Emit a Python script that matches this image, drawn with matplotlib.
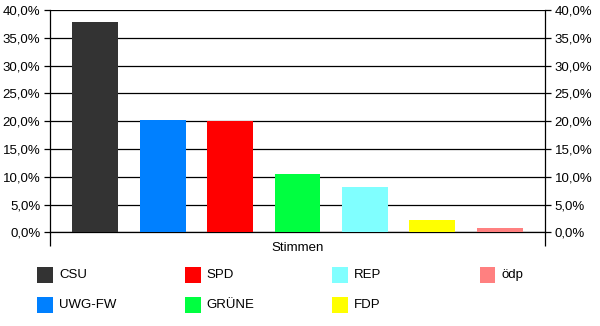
import matplotlib
matplotlib.use("Agg")
import matplotlib.pyplot as plt
from matplotlib.patches import Rectangle
from matplotlib.ticker import FuncFormatter

# Vote shares (%) per party, single category "Stimmen"
parties = ["CSU", "UWG-FW", "SPD", "GRÜNE", "REP", "FDP", "ödp"]
shares = [37.9, 20.2, 20.0, 10.5, 8.2, 2.3, 0.8]
colors = ["#333333", "#0080ff", "#ff0000", "#00ff40", "#80ffff", "#ffff00", "#ff8080"]
category = "Stimmen"

plt.rcParams["font.family"] = ["Liberation Sans", "DejaVu Sans"]

W, H = 600, 326
fig = plt.figure(figsize=(W / 100, H / 100), dpi=100)
ax = fig.add_axes([50 / W, (H - 232.3) / H, (545 - 50) / W, (232.3 - 10) / H])

x = list(range(len(parties)))
ax.bar(x, shares, width=0.68, color=colors, zorder=3)
ax.set_xlim(-0.67, len(parties) - 1 + 0.67)
ax.set_ylim(0, 40)

ticks = [0, 5, 10, 15, 20, 25, 30, 35, 40]
fmt = FuncFormatter(lambda v, p: f"{v:.1f}%".replace(".", ","))
ax.set_yticks(ticks)
ax.yaxis.set_major_formatter(fmt)
ax.grid(axis="y", color="black", linewidth=0.9, zorder=1)
ax.tick_params(axis="y", direction="out", length=4, width=0.9, labelsize=9.5,
               pad=3, right=True, labelright=True)

# category boundary ticks at the axis ends
ax.set_xticks(ax.get_xlim())
ax.set_xticklabels(["", ""])
ax.tick_params(axis="x", direction="out", length=10, width=0.9)

ax.spines["top"].set_visible(False)
for s in ["left", "right", "bottom"]:
    ax.spines[s].set_linewidth(0.9)

fig.text(297.5 / W, (H - 248) / H, category, ha="center", va="center", fontsize=9.5)

# legend, fixed column pitch like the original
for i, (name, c) in enumerate(zip(parties, colors)):
    col, row = i // 2, i % 2
    x0 = 37 + col * 147.5
    y0 = 267 + row * 30
    fig.add_artist(Rectangle((x0 / W, (H - y0 - 16) / H), 16 / W, 16 / H,
                             transform=fig.transFigure, facecolor=c, edgecolor="none"))
    fig.text((x0 + 22) / W, (H - y0 - 8) / H, name, ha="left", va="center", fontsize=9.5)

fig.savefig("out.png", dpi=100)
